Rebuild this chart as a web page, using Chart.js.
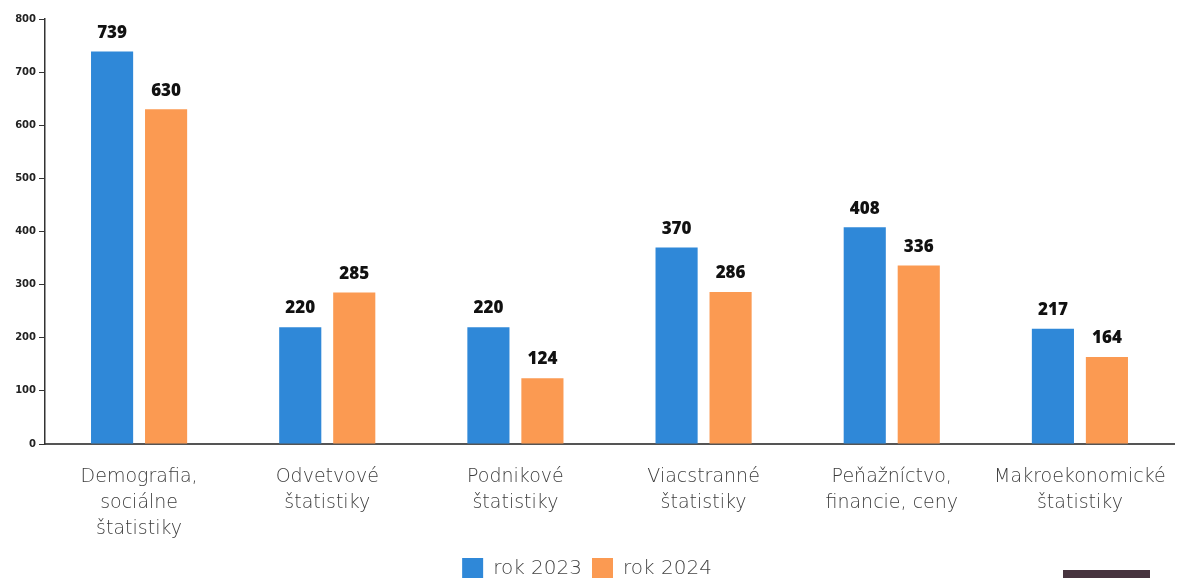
<!DOCTYPE html>
<html lang="sk">
<head>
<meta charset="utf-8">
<title>Štatistiky 2023 / 2024</title>
<script src="https://cdn.jsdelivr.net/npm/chart.js@4.4.1/dist/chart.umd.min.js"></script>
<style>
  html, body { margin: 0; padding: 0; background: #fff; overflow: hidden; }
  .wrap { position: relative; width: 1182px; height: 578px; overflow: hidden; }
  canvas { display: block; }
  .corner { position: absolute; left: 1063px; top: 570px; width: 87px; height: 8px; background: #47343f; }
</style>
</head>
<body>
<div class="wrap">
  <canvas id="barChart" width="1182" height="589"></canvas>
  <div class="corner"></div>
</div>
<script>
const categories = [
  ['Demografia,', 'sociálne', 'štatistiky'],
  ['Odvetvové', 'štatistiky'],
  ['Podnikové', 'štatistiky'],
  ['Viacstranné', 'štatistiky'],
  ['Peňažníctvo,', 'financie, ceny'],
  ['Makroekonomické', 'štatistiky'],
];
const values2023 = [739, 220, 220, 370, 408, 217];
const values2024 = [630, 285, 124, 286, 336, 164];
const seriesNames = ['rok 2023', 'rok 2024'];
const yTicks = [0, 100, 200, 300, 400, 500, 600, 700, 800];

const FONT = "'Open Sans', 'DejaVu Sans', sans-serif";
const WIDE = "'DejaVu Sans', sans-serif";

// values on top of bars
const barValues = {
  id: 'barValues',
  afterDatasetsDraw(chart) {
    const ctx = chart.ctx;
    ctx.save();
    ctx.font = `800 17px ${FONT}`;
    ctx.fillStyle = '#111';
    ctx.textAlign = 'center';
    ctx.textBaseline = 'bottom';
    chart.data.datasets.forEach((ds, i) => {
      chart.getDatasetMeta(i).data.forEach((bar, j) => {
        ctx.fillText(ds.data[j], bar.x, bar.y - 10);
      });
    });
    ctx.restore();
  },
};

new Chart(document.getElementById('barChart'), {
  type: 'bar',
  data: {
    labels: categories,
    datasets: [
      { label: seriesNames[0], data: values2023, backgroundColor: '#2f88d8' },
      { label: seriesNames[1], data: values2024, backgroundColor: '#fb9a52' },
    ],
  },
  options: {
    responsive: false,
    animation: false,
    layout: { padding: { top: 19, left: 0, right: 8, bottom: 0 } },
    categoryPercentage: 0.574,
    barPercentage: 0.78,
    plugins: {
      tooltip: { enabled: false },
      legend: {
        position: 'bottom',
        labels: {
          boxWidth: 21,
          boxHeight: 21,
          padding: 10,
          color: '#444',
          font: { family: WIDE, size: 20, weight: '200' },
        },
      },
    },
    scales: {
      x: {
        grid: { display: false },
        border: { display: true, color: '#555', width: 2 },
        ticks: {
          color: '#3c3c3c',
          padding: 12,
          maxRotation: 0,
          autoSkip: false,
          font: { family: WIDE, size: 19, weight: '200', lineHeight: 1.38 },
        },
        afterFit(scale) { scale.height = 104; },
      },
      y: {
        min: 0,
        max: 800,
        afterBuildTicks(scale) { scale.ticks = yTicks.map(v => ({ value: v })); },
        grid: { drawOnChartArea: false, drawTicks: true, tickLength: 6, color: '#333' },
        border: { display: true, color: '#333', width: 1.5 },
        ticks: {
          color: '#222',
          padding: 3,
          font: { family: WIDE, size: 10, weight: 'bold' },
        },
        afterFit(scale) { scale.width = 45; },
      },
    },
  },
  plugins: [barValues],
});
</script>
</body>
</html>
